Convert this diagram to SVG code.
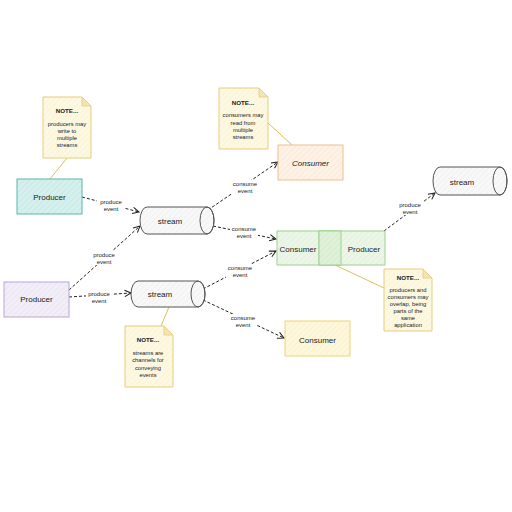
<svg xmlns="http://www.w3.org/2000/svg" width="512" height="512" viewBox="0 0 512 512">
<style>
text{font-family:"Liberation Sans","DejaVu Sans",sans-serif;fill:#222;text-anchor:middle;dominant-baseline:central}
.lbl{font-size:8px}
.el{font-size:6px}
.nt{font-size:5.8px}
.ntb{font-size:6.2px;font-weight:bold}
.note{fill:url(#hNote);stroke:#e6cd7a;stroke-width:1}
.fold{fill:#f3e4b5;stroke:#e6cd7a;stroke-width:0.8}
.nlink{stroke:#e0bf5c;stroke-width:1;fill:none}
.edge{stroke:#222;stroke-width:1;stroke-dasharray:3 2;fill:none;marker-end:url(#arr)}
.cyl{fill:url(#hCyl);stroke:#555;stroke-width:1}
</style>
<defs>
<marker id="arr" viewBox="0 0 10 10" refX="9" refY="5" markerWidth="8" markerHeight="8" orient="auto" markerUnits="userSpaceOnUse">
<path d="M1,1 L9,5 L1,9" fill="none" stroke="#222" stroke-width="1.3"/>
</marker>
<pattern id="hNote" width="4" height="4" patternUnits="userSpaceOnUse" patternTransform="rotate(45)"><rect width="4" height="4" fill="#fdf8e2"/><line x1="0" y1="0" x2="0" y2="4" stroke="#f7ecc2" stroke-width="0.8"/></pattern>
<pattern id="hTeal" width="4" height="4" patternUnits="userSpaceOnUse" patternTransform="rotate(45)"><rect width="4" height="4" fill="#d6f0ed"/><line x1="0" y1="0" x2="0" y2="4" stroke="#b0dfda" stroke-width="0.8"/></pattern>
<pattern id="hPurple" width="4" height="4" patternUnits="userSpaceOnUse" patternTransform="rotate(45)"><rect width="4" height="4" fill="#f2eef8"/><line x1="0" y1="0" x2="0" y2="4" stroke="#e0d6ec" stroke-width="0.8"/></pattern>
<pattern id="hOrange" width="4" height="4" patternUnits="userSpaceOnUse" patternTransform="rotate(45)"><rect width="4" height="4" fill="#fdf2e6"/><line x1="0" y1="0" x2="0" y2="4" stroke="#f9e0c8" stroke-width="0.8"/></pattern>
<pattern id="hGreen" width="4" height="4" patternUnits="userSpaceOnUse" patternTransform="rotate(45)"><rect width="4" height="4" fill="#ecf6e8"/><line x1="0" y1="0" x2="0" y2="4" stroke="#d3eacb" stroke-width="0.8"/></pattern>
<pattern id="hGreen2" width="4" height="4" patternUnits="userSpaceOnUse" patternTransform="rotate(45)"><rect width="4" height="4" fill="#e0f1d9"/><line x1="0" y1="0" x2="0" y2="4" stroke="#c4e3b9" stroke-width="0.8"/></pattern>
<pattern id="hYellow" width="4" height="4" patternUnits="userSpaceOnUse" patternTransform="rotate(45)"><rect width="4" height="4" fill="#fdf7dc"/><line x1="0" y1="0" x2="0" y2="4" stroke="#f7e9b4" stroke-width="0.8"/></pattern>
<pattern id="hCyl" width="4" height="4" patternUnits="userSpaceOnUse" patternTransform="rotate(45)"><rect width="4" height="4" fill="#f8f8f8"/><line x1="0" y1="0" x2="0" y2="4" stroke="#e6e6e6" stroke-width="0.8"/></pattern>
</defs>

<g id="note-links">
<path class="nlink" d="M67,158 L50,179"/>
<path class="nlink" d="M268,123 L292,145"/>
<path class="nlink" d="M169,307 L161,326"/>
<path class="nlink" d="M335,265 L384,288"/>
</g>

<g id="connectors">
<path class="edge" d="M82,197 L139,212"/>
<path class="edge" d="M69,290 L140,226"/>
<path class="edge" d="M69,297 L131,293"/>
<path class="edge" d="M208,210 L278,162"/>
<path class="edge" d="M213,226 L276,239"/>
<path class="edge" d="M203,289 L276,251"/>
<path class="edge" d="M203,300 L284,338"/>
<path class="edge" d="M384,231 L435,193"/>
<g id="edge-labels">
<rect x="97" y="198" width="28" height="14" fill="#fff"/>
<text class="el" x="111" y="201.5">produce</text><text class="el" x="111" y="208.5">event</text>
<rect x="90" y="251" width="28" height="14" fill="#fff"/>
<text class="el" x="104" y="254.5">produce</text><text class="el" x="104" y="261.5">event</text>
<rect x="86" y="290" width="26" height="14" fill="#fff"/>
<text class="el" x="99" y="293.5">produce</text><text class="el" x="99" y="300.5">event</text>
<rect x="231" y="180" width="28" height="14" fill="#fff"/>
<text class="el" x="245" y="183.5">consume</text><text class="el" x="245" y="190.5">event</text>
<rect x="230" y="225" width="28" height="14" fill="#fff"/>
<text class="el" x="244" y="228.5">consume</text><text class="el" x="244" y="235.5">event</text>
<rect x="226" y="264" width="28" height="14" fill="#fff"/>
<text class="el" x="240" y="267.5">consume</text><text class="el" x="240" y="274.5">event</text>
<rect x="229" y="314" width="28" height="14" fill="#fff"/>
<text class="el" x="243" y="317.5">consume</text><text class="el" x="243" y="324.5">event</text>
<rect x="396" y="201" width="28" height="14" fill="#fff"/>
<text class="el" x="410" y="204.5">produce</text><text class="el" x="410" y="211.5">event</text>
</g>
</g>

<g id="note1">
<path class="note" d="M43,97 L82,97 L91,106 L91,158 L43,158 Z"/>
<path class="fold" d="M82,97 L82,106 L91,106 Z"/>
<text class="ntb" x="67" y="110">NOTE...</text>
<text class="nt" x="67" y="124">producers may</text>
<text class="nt" x="67" y="131">write to</text>
<text class="nt" x="67" y="138">multiple</text>
<text class="nt" x="67" y="145">streams</text>
</g>

<g id="note2">
<path class="note" d="M219,88 L259,88 L268,97 L268,149 L219,149 Z"/>
<path class="fold" d="M259,88 L259,97 L268,97 Z"/>
<text class="ntb" x="243" y="102">NOTE...</text>
<text class="nt" x="243" y="115">consumers may</text>
<text class="nt" x="243" y="122.5">read from</text>
<text class="nt" x="243" y="130">multiple</text>
<text class="nt" x="243" y="137">streams</text>
</g>

<g id="note3">
<path class="note" d="M125,326 L164,326 L173,335 L173,387 L125,387 Z"/>
<path class="fold" d="M164,326 L164,335 L173,335 Z"/>
<text class="ntb" x="148" y="339">NOTE...</text>
<text class="nt" x="148" y="353">streams are</text>
<text class="nt" x="148" y="360">channels for</text>
<text class="nt" x="148" y="367.5">conveying</text>
<text class="nt" x="148" y="374.5">events</text>
</g>

<g id="note4">
<path class="note" d="M384,269 L423,269 L432,278 L432,331 L384,331 Z"/>
<path class="fold" d="M423,269 L423,278 L432,278 Z"/>
<text class="ntb" x="408" y="277">NOTE...</text>
<text class="nt" x="408" y="290">producers and</text>
<text class="nt" x="408" y="297">consumers may</text>
<text class="nt" x="408" y="304">overlap, being</text>
<text class="nt" x="408" y="311">parts of the</text>
<text class="nt" x="408" y="318">same</text>
<text class="nt" x="408" y="325">application</text>
</g>

<g id="producer1">
<rect x="17" y="179" width="65" height="35" fill="url(#hTeal)" stroke="#5db5ae" stroke-width="1"/>
<text class="lbl" x="49.5" y="197">Producer</text>
</g>

<g id="producer2">
<rect x="4" y="282" width="65" height="35" fill="url(#hPurple)" stroke="#b9a6d6" stroke-width="1"/>
<text class="lbl" x="36.5" y="299.5">Producer</text>
</g>

<g id="stream1">
<path class="cyl" d="M147,207 L207,207 A7,13.5 0 0 1 207,234 L147,234 A7,13.5 0 0 1 147,207 Z"/>
<ellipse cx="207" cy="220.5" rx="7" ry="13.5" fill="none" stroke="#555" stroke-width="1"/>
<text class="lbl" x="170" y="221">stream</text>
</g>

<g id="stream2">
<path class="cyl" d="M138,281 L198,281 A7,13 0 0 1 198,307 L138,307 A7,13 0 0 1 138,281 Z"/>
<ellipse cx="198" cy="294" rx="7" ry="13" fill="none" stroke="#555" stroke-width="1"/>
<text class="lbl" x="160" y="294.5">stream</text>
</g>

<g id="stream3">
<path class="cyl" d="M440,167 L500,167 A7,14 0 0 1 500,195 L440,195 A7,14 0 0 1 440,167 Z"/>
<ellipse cx="500" cy="181" rx="7" ry="14" fill="none" stroke="#555" stroke-width="1"/>
<text class="lbl" x="462" y="182">stream</text>
</g>

<g id="consumer-top">
<rect x="278" y="145" width="65" height="35" fill="url(#hOrange)" stroke="#f0c08f" stroke-width="1"/>
<text class="lbl" x="310.5" y="163" font-style="italic">Consumer</text>
</g>

<g id="consumer-mid">
<rect x="277" y="231" width="64" height="34" fill="url(#hGreen)" stroke="#9fd093" stroke-width="1"/>
</g>

<g id="producer-mid">
<rect x="319" y="231" width="66" height="34" fill="url(#hGreen)" stroke="#9fd093" stroke-width="1"/>
<rect x="319" y="231" width="22" height="34" fill="url(#hGreen2)" stroke="#9fd093" stroke-width="1"/>
<text class="lbl" x="364" y="249">Producer</text>
</g>

<g id="consumer-mid-label">
<text class="lbl" x="298" y="249">Consumer</text>
</g>

<g id="consumer-bottom">
<rect x="285" y="321" width="65" height="35" fill="url(#hYellow)" stroke="#ecd37e" stroke-width="1"/>
<text class="lbl" x="317.5" y="340">Consumer</text>
</g>
</svg>
